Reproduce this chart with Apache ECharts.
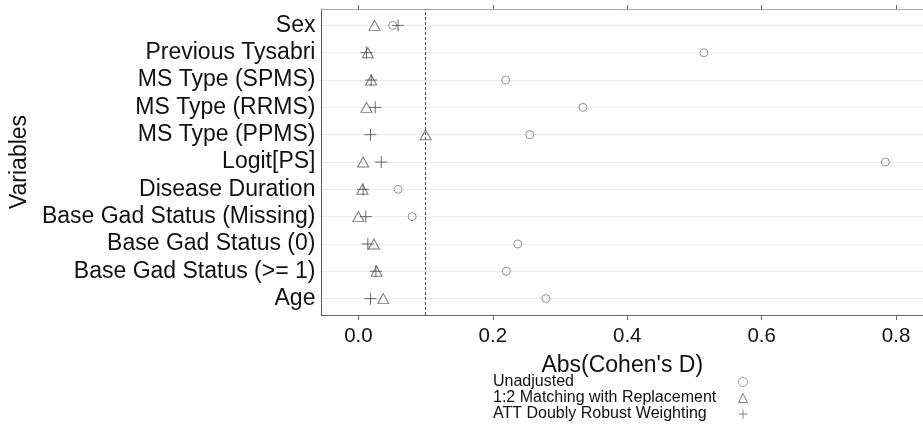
<!DOCTYPE html>
<html>
<head>
<meta charset="utf-8">
<script src="https://cdn.jsdelivr.net/npm/echarts@6/dist/echarts.min.js"></script>
<style>
  html, body { margin: 0; padding: 0; background: #fff; }
  #chart { width: 923px; height: 430px; }
</style>
</head>
<body>
<div id="chart"></div>
<script>
// rows, top to bottom as drawn
const variables = ['Sex', 'Previous Tysabri', 'MS Type (SPMS)', 'MS Type (RRMS)', 'MS Type (PPMS)',
  'Logit[PS]', 'Disease Duration', 'Base Gad Status (Missing)', 'Base Gad Status (0)',
  'Base Gad Status (>= 1)', 'Age'];
const unadjusted = [0.051, 0.514, 0.219, 0.334, 0.255, 0.784, 0.059, 0.080, 0.237, 0.220, 0.279];
const matching = [0.024, 0.014, 0.019, 0.012, 0.100, 0.007, 0.006, 0.000, 0.023, 0.027, 0.037];
const weighting = [0.059, 0.012, 0.019, 0.025, 0.018, 0.034, 0.007, 0.011, 0.014, 0.026, 0.018];
const seriesNames = ['Unadjusted', '1:2 Matching with Replacement', 'ATT Doubly Robust Weighting'];
const xTicks = [0, 0.2, 0.4, 0.6, 0.8];
const threshold = 0.1;

const font = "'Liberation Sans', Arial, sans-serif";
const rowIdx = variables.map((v, i) => variables.length - 1 - i);
const toPoints = vals => vals.map((v, i) => [v, rowIdx[i]]);
const plusPath = 'path://M5,0L5,10M0,5L10,5';

const chart = echarts.init(document.getElementById('chart'));

const markerStyle = c => ({ color: 'rgba(0,0,0,0)', borderColor: c, borderWidth: 1 });

chart.setOption({
  animation: false,
  textStyle: { fontFamily: font },
  grid: { left: 320, top: 9, right: 0, bottom: 115 },
  xAxis: [{
    type: 'value',
    position: 'bottom',
    min: -0.055,
    max: 0.84,
    name: 'Abs(Cohen\'s D)',
    nameLocation: 'middle',
    nameGap: 39,
    nameTextStyle: { fontSize: 23, color: '#111', fontFamily: font },
    axisLine: { show: true, onZero: false, lineStyle: { color: '#666', width: 1 } },
    axisTick: { show: true, length: 5, customValues: xTicks, lineStyle: { color: '#666' } },
    axisLabel: {
      customValues: xTicks, fontSize: 20.5, color: '#111', margin: 11,
      formatter: v => v.toFixed(1)
    },
    splitLine: { show: false }
  }, {
    type: 'value',
    position: 'top',
    min: -0.055,
    max: 0.84,
    axisLine: { show: true, onZero: false, lineStyle: { color: '#aaa', width: 1 } },
    axisTick: { show: true, length: 4, customValues: xTicks, lineStyle: { color: '#666' } },
    axisLabel: { show: false },
    splitLine: { show: false }
  }],
  yAxis: {
    type: 'value',
    min: -0.6,
    max: 10.6,
    name: 'Variables',
    nameLocation: 'middle',
    nameRotate: 90,
    nameGap: 290,
    nameTextStyle: { fontSize: 23, color: '#111', fontFamily: font },
    axisLine: { show: true, onZero: false, lineStyle: { color: '#555', width: 1 } },
    axisTick: { show: false, customValues: rowIdx },
    axisLabel: {
      customValues: rowIdx, fontSize: 23, color: '#111', margin: 6,
      formatter: v => variables[variables.length - 1 - Math.round(v)]
    },
    splitLine: { show: true, lineStyle: { color: '#ebebeb', width: 1 } }
  },
  legend: [{
    orient: 'vertical',
    left: 487,
    top: 374,
    height: 120,
    padding: 0,
    itemWidth: 0,
    itemHeight: 0,
    itemGap: 0,
    selectedMode: false,
    icon: 'rect',
    itemStyle: { opacity: 0 },
    textStyle: { fontSize: 16, lineHeight: 16, color: '#111', fontFamily: font },
    data: seriesNames
  }, {
    orient: 'vertical',
    left: 738,
    top: 374,
    height: 120,
    padding: 0,
    itemWidth: 9,
    itemHeight: 9,
    itemGap: 0,
    selectedMode: false,
    formatter: () => ' ',
    textStyle: { fontSize: 16, lineHeight: 16 },
    data: [
      { name: seriesNames[0], icon: 'circle', itemStyle: markerStyle('#888') },
      { name: seriesNames[1], icon: 'triangle', itemStyle: markerStyle('#666') },
      { name: seriesNames[2], icon: plusPath, itemStyle: markerStyle('#666') }
    ]
  }],
  series: [{
    name: seriesNames[0],
    type: 'scatter',
    symbol: 'circle',
    symbolSize: 8,
    itemStyle: markerStyle('#777'),
    emphasis: { disabled: true },
    data: toPoints(unadjusted),
    markLine: {
      silent: true,
      symbol: 'none',
      label: { show: false },
      lineStyle: { color: '#555', type: [3, 2], width: 1 },
      data: [{ xAxis: threshold }]
    }
  }, {
    name: seriesNames[1],
    type: 'scatter',
    symbol: 'triangle',
    symbolSize: [11, 10],
    itemStyle: markerStyle('#555'),
    emphasis: { disabled: true },
    data: toPoints(matching)
  }, {
    name: seriesNames[2],
    type: 'scatter',
    symbol: plusPath,
    symbolSize: 12,
    itemStyle: markerStyle('#444'),
    emphasis: { disabled: true },
    data: toPoints(weighting)
  }]
});
</script>
</body>
</html>
